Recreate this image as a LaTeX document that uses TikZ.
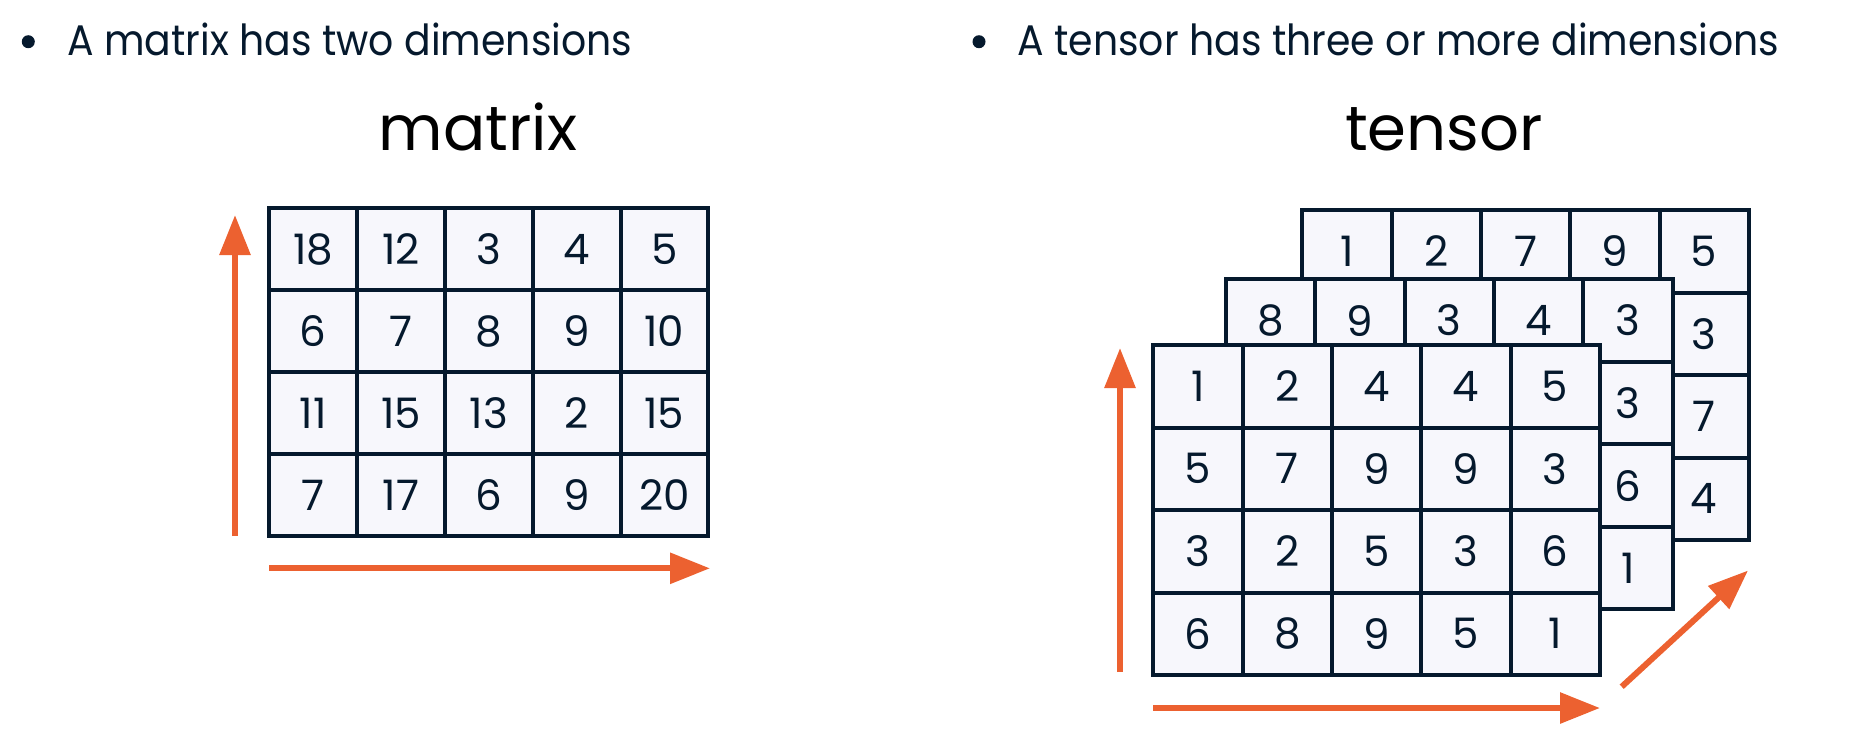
\documentclass[tikz,border=0pt]{standalone}
\usepackage{fontspec}
\setmainfont{Poppins}
\newfontfamily\narrowfont[FakeStretch=0.92]{Poppins}
\usetikzlibrary{arrows.meta}

\definecolor{navy}{HTML}{05192D}
\definecolor{dcorange}{HTML}{EC6130}
\definecolor{cellfill}{HTML}{F7F7FC}

\begin{document}
\begin{tikzpicture}[x=0.5pt,y=-0.5pt,
  cell/.style={draw=navy, fill=cellfill, line width=2pt, inner sep=0pt,
    text=navy, font=\fontsize{21}{21}\selectfont},
  mcell/.style={cell, minimum width=43.9pt, minimum height=40.95pt},
  tcell/.style={cell, minimum width=44.65pt, minimum height=41.25pt},
  dimarrow/.style={draw=dcorange, line width=3pt,
    -{Triangle[length=20pt,width=15pt]}},
  bullet/.style={circle, fill=navy, inner sep=0pt, minimum size=6.5pt},
  bullettext/.style={anchor=base west, text=navy, inner sep=0pt,
    font=\narrowfont\fontsize{21.4}{24}\selectfont},
  title/.style={anchor=base, text=black, font=\fontsize{31.3}{34}\selectfont}]

\useasboundingbox (0,0) rectangle (1852,752);

%------------------------------------------------
% Bullets and titles
%------------------------------------------------

\node[bullet] (dotA) at (28.3,41.7) {};
\node[bullettext] (lineA) at (66.7,55) {A matrix has two dimensions};
\node[bullet] (dotB) at (979,41.7) {};
\node[bullettext] (lineB) at (1017,55) {A tensor has three or more dimensions};

\node[title] (mtitle) at (478,150) {matrix};
\node[title] (ttitle) at (1444,150) {tensor};

%------------------------------------------------
% Matrix
%------------------------------------------------

\foreach \v [count=\i from 0] in {18,12,3,4,5, 6,7,8,9,10, 11,15,13,2,15, 7,17,6,9,20} {
  \pgfmathtruncatemacro\ri{div(\i,5)}
  \pgfmathtruncatemacro\ci{mod(\i,5)}
  \node[mcell] (m-\ri-\ci) at ({269.3+87.8*(\ci+0.5)},{208.3+81.9*(\ri+0.5)}) {\v};
}

\coordinate (mup0) at (235,536);
\coordinate (mup1) at (235,215);
\coordinate (mright0) at (269.3,568.3);
\coordinate (mright1) at (710,568.3);
\draw[dimarrow] (mup0) -- (mup1);
\draw[dimarrow] (mright0) -- (mright1);

%------------------------------------------------
% Tensor: back, middle, front
%------------------------------------------------

\foreach \v [count=\i from 0] in {1,2,7,9,5, {},{},{},{},3, {},{},{},{},7, {},{},{},{},4} {
  \pgfmathtruncatemacro\ri{div(\i,5)}
  \pgfmathtruncatemacro\ci{mod(\i,5)}
  \node[tcell] (b-\ri-\ci) at ({1302.3+89.3*(\ci+0.5)},{210+82.5*(\ri+0.5)}) {\v};
}

\foreach \v [count=\i from 0] in {8,9,3,4,3, {},{},{},{},3, {},{},{},{},6, {},{},{},{},1} {
  \pgfmathtruncatemacro\ri{div(\i,5)}
  \pgfmathtruncatemacro\ci{mod(\i,5)}
  \node[tcell] (s-\ri-\ci) at ({1226+89.3*(\ci+0.5)},{279.3+82.5*(\ri+0.5)}) {\v};
}

\foreach \v [count=\i from 0] in {1,2,4,4,5, 5,7,9,9,3, 3,2,5,3,6, 6,8,9,5,1} {
  \pgfmathtruncatemacro\ri{div(\i,5)}
  \pgfmathtruncatemacro\ci{mod(\i,5)}
  \node[tcell] (f-\ri-\ci) at ({1153.3+89.3*(\ci+0.5)},{345+82.5*(\ri+0.5)}) {\v};
}

\coordinate (tup0) at (1120,672);
\coordinate (tup1) at (1120,348);
\coordinate (tright0) at (1153,708);
\coordinate (tright1) at (1600,708);
\coordinate (tdeep0) at (1621.7,686.7);
\coordinate (tdeep1) at (1748,570.5);
\draw[dimarrow] (tup0) -- (tup1);
\draw[dimarrow] (tright0) -- (tright1);
\draw[dimarrow] (tdeep0) -- (tdeep1);

\end{tikzpicture}
\end{document}
